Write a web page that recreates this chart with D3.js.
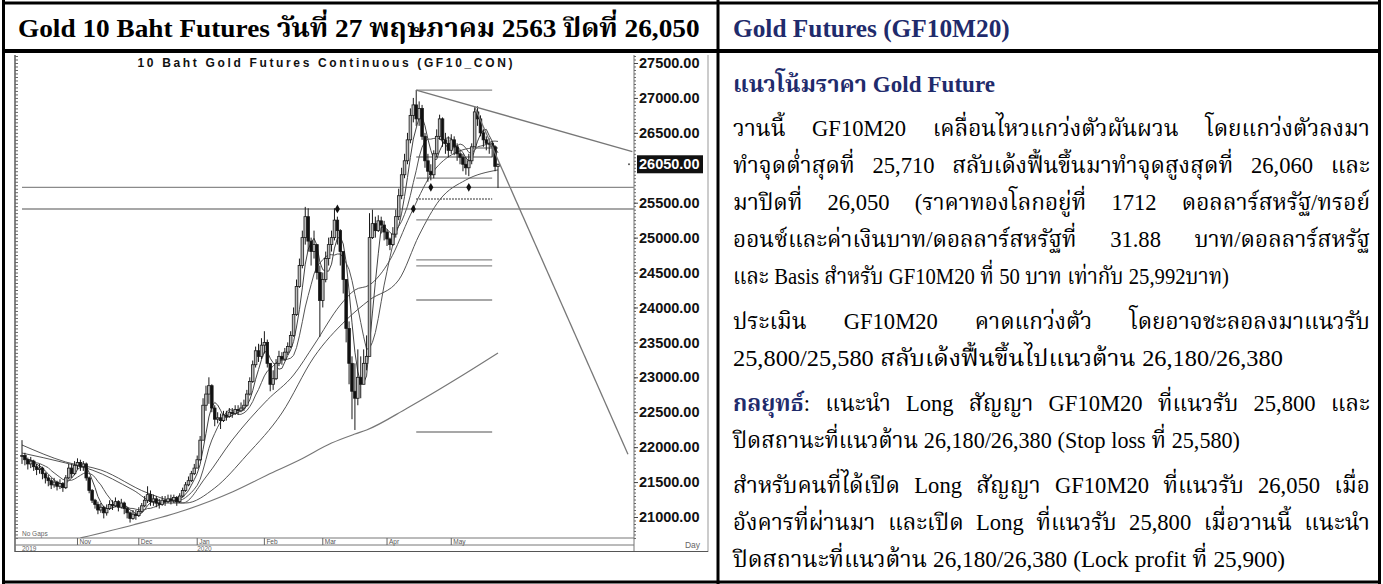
<!DOCTYPE html>
<html>
<head>
<meta charset="utf-8">
<script src="https://cdn.jsdelivr.net/npm/d3@7"></script>
<style>
  body { margin: 0; background: #fff; }
  svg { display: block; }
</style>
</head>
<body>
<svg id="page" width="1383" height="584"></svg>
<script>
// ---- data (daily bars, Oct 2019 -> 27 May 2020) ----
var closes = [
  21880, 21820, 21760, 21800, 21720, 21680, 21700, 21620, 21560, 21520,
  21460, 21500, 21440, 21480, 21420, 21560, 21700, 21620, 21740, 21780,
  21720, 21760, 21560, 21380, 21240, 21180, 21100, 21140, 21060, 21120,
  21180, 21160, 21220, 21140, 21200, 21120, 21060, 20980, 21040, 21020,
  21080, 21160, 21240, 21320, 21220, 21260, 21200, 21180, 21240, 21220,
  21260, 21240, 21280, 21220, 21300, 21380, 21460, 21520, 21620, 21700,
  21820, 22100, 22600, 22760, 22880, 22560, 22400, 22420, 22380, 22460,
  22440, 22500, 22480, 22540, 22520, 22560, 22600, 22760, 22940, 23180,
  23380, 23300, 23460, 23500, 23200, 22900, 22980, 23200, 23300, 23260,
  23360, 23440, 23600, 23900, 24300, 24600, 25000, 25300, 24950, 24800,
  24900, 24500, 24100, 24400, 24700, 24900, 25000, 25250, 25100, 24800,
  24400, 23700, 23200, 22800, 22700, 23000, 22900, 23200, 23300, 25000,
  25200, 25100, 25240, 25180, 25080, 24980, 24900, 25050, 25300, 25600,
  25900, 26100, 26400, 26750, 26900, 26700, 26850, 26450, 26100, 25950,
  25900, 26200, 26450, 26700, 26400, 26350, 26250, 26400, 26300, 26200,
  26150, 26050, 26000, 26100, 26300, 26800, 26700, 26500, 26400, 26350,
  26350, 26300, 26020, 26050
];
var highs = [
  22100, 21920, 21850, 21860, 21820, 21760, 21760, 21720, 21640, 21600,
  21560, 21560, 21520, 21540, 21500, 21600, 21760, 21760, 21800, 21840,
  21820, 21800, 21780, 21580, 21400, 21260, 21220, 21200, 21160, 21180,
  21240, 21240, 21280, 21240, 21260, 21220, 21140, 21080, 21100, 21100,
  21140, 21200, 21300, 21440, 21380, 21320, 21300, 21260, 21300, 21300,
  21320, 21320, 21320, 21300, 21340, 21420, 21500, 21580, 21660, 21760,
  21880, 22160, 22700, 22880, 23000, 22900, 22600, 22500, 22480, 22520,
  22520, 22560, 22560, 22600, 22600, 22640, 22680, 22820, 23000, 23240,
  23440, 23480, 23560, 23660, 23540, 23200, 23100, 23260, 23380, 23360,
  23420, 23500, 23660, 24000, 24400, 24700, 25100, 25440, 25420, 25000,
  25100, 24900, 24600, 24500, 24800, 25000, 25100, 25420, 25300, 25120,
  24800, 24400, 23800, 23300, 23200, 23400, 23300, 23400, 23600, 25350,
  25400, 25300, 25320, 25300, 25240, 25120, 25000, 25150, 25400, 25700,
  26000, 26200, 26500, 26850, 27000, 27113, 26950, 26900, 26500, 26200,
  26050, 26250, 26550, 26760, 26720, 26500, 26450, 26480, 26450, 26350,
  26250, 26200, 26150, 26200, 26350, 26884, 26880, 26750, 26550, 26450,
  26420, 26380, 26320, 26060
];
var lows = [
  21760, 21740, 21680, 21700, 21660, 21600, 21620, 21540, 21480, 21440,
  21400, 21420, 21380, 21400, 21360, 21400, 21540, 21560, 21600, 21680,
  21660, 21660, 21520, 21340, 21200, 21120, 21040, 21060, 20980, 21020,
  21100, 21100, 21140, 21080, 21120, 21040, 20980, 20920, 20960, 20960,
  21000, 21060, 21140, 21200, 21160, 21160, 21140, 21120, 21160, 21160,
  21200, 21180, 21200, 21160, 21200, 21280, 21360, 21440, 21500, 21600,
  21700, 21800, 22100, 22520, 22620, 22500, 22300, 22340, 22260, 22360,
  22380, 22420, 22420, 22460, 22460, 22500, 22520, 22580, 22740, 22920,
  23140, 23220, 23260, 23340, 23140, 22800, 22820, 22960, 23160, 23180,
  23240, 23320, 23420, 23580, 23880, 24280, 24560, 24900, 24800, 24600,
  24700, 24400, 23580, 24000, 24360, 24600, 24800, 24960, 24900, 24600,
  24200, 23500, 22900, 22400, 22246, 22600, 22700, 22900, 23100, 23300,
  24980, 25000, 25080, 25060, 24960, 24880, 24820, 24880, 25000, 25250,
  25550, 25850, 26050, 26350, 26650, 26600, 26600, 26400, 26000, 25800,
  25820, 25850, 26150, 26400, 26300, 26200, 26150, 26200, 26180, 26100,
  26050, 25950, 25900, 25880, 26050, 26300, 26600, 26450, 26300, 26250,
  26200, 26150, 25950, 25710
];

// slower averages (day index / price)
var ma25Days = [0, 15, 24, 38, 46, 55, 63, 72, 84, 93, 100, 109, 114, 119, 126, 133, 140, 147, 155, 163];
var ma25Vals = [21916, 21773, 21673, 21387, 21200, 21200, 21573, 22102, 22675, 23033, 23463, 24035, 24250, 24322, 24679, 25325, 25898, 26183, 26283, 26283];
var ma50Days = [0, 15, 27, 43, 56, 66, 77, 89, 100, 111, 119, 129, 136, 143, 152, 163];
var ma50Vals = [22031, 21787, 21673, 21344, 21200, 21415, 21888, 22489, 23291, 23820, 24107, 24393, 25037, 25539, 25825, 25969];
var ma200Days = [20, 38, 56, 72, 84, 95, 106, 114, 118, 132, 151, 163];
var ma200Vals = [20700, 20885, 21100, 21358, 21601, 21816, 22059, 22188, 22246, 22561, 23033, 23348];

// drawn studies
var supportLevels = [25720, 25410];
var fibDays = [135, 161];
var fibLevels = [27113, 26154, 25853, 25253, 24680, 24594, 24107, 22217];
var fibDotted = [25553];
var trendTop = [[135, 27113], [209, 26230]];
var trendFall = [[155, 26870], [207.5, 21900]];
var markDays = [108, 134, 140, 153];
var markPrices = [25410, 25410, 25720, 25720];
var lastPrice = 26050;

var yTicks = [21000, 21500, 22000, 22500, 23000, 23500, 24000, 24500, 25000, 25500, 26500, 27000, 27500];
var monthDays = [19, 40, 60, 83, 103, 125, 147];
var monthNames = ["Nov", "Dec", "Jan", "Feb", "Mar", "Apr", "May"];
var yearDays = [0, 60];
var yearNames = ["2019", "2020"];

// ---- page ----
var navy = "#1f2b6c";
var serif = "'Liberation Serif','Noto Serif Thai','Norasi','Kinnari','Laksaman','DejaVu Serif',serif";
var sans = "'Liberation Sans',Arial,sans-serif";
var svg = d3.select("#page");

svg.append("rect").attr("width", 1383).attr("height", 584).attr("fill", "#fff");

// ---- chart ----
var plotLeft = 16, plotRight = 634, plotTop = 56, plotBottom = 538;

var x = d3.scaleLinear().domain([0, 163]).range([22, 498]);
var y = d3.scaleLinear().domain([21000, 27500]).range([517, 63]);

var chart = svg.append("g");

chart.append("clipPath").attr("id", "plotclip")
    .append("rect")
    .attr("x", plotLeft).attr("y", plotTop)
    .attr("width", plotRight - plotLeft).attr("height", plotBottom - plotTop);

// frame
chart.append("line").attr("x1", 15).attr("x2", 15).attr("y1", 55).attr("y2", 552)
    .attr("stroke", "#333").attr("stroke-width", 1.2);
chart.append("line").attr("x1", plotRight).attr("x2", plotRight).attr("y1", 55).attr("y2", 552)
    .attr("stroke", "#777");
chart.append("line").attr("x1", 708).attr("x2", 708).attr("y1", 55).attr("y2", 552)
    .attr("stroke", "#999");

// left ruler ticks and right minor ticks
var minorTicks = d3.range(20700, 27650, 50);
chart.append("g")
    .attr("transform", "translate(15,0)")
    .call(d3.axisRight(y).tickValues(minorTicks).tickSize(3).tickFormat(""))
    .call(function (g) { g.select(".domain").remove(); })
    .selectAll("line").attr("stroke", "#666");
chart.append("g")
    .attr("transform", "translate(" + plotRight + ",0)")
    .call(d3.axisRight(y).tickValues(minorTicks).tickSize(2).tickFormat(""))
    .call(function (g) { g.select(".domain").remove(); })
    .selectAll("line").attr("stroke", "#666");

// price labels
var yAxis = chart.append("g")
    .attr("transform", "translate(" + plotRight + ",0)")
    .call(d3.axisRight(y).tickValues(yTicks).tickSize(4).tickPadding(1).tickFormat(d3.format(".2f")));
yAxis.select(".domain").remove();
yAxis.selectAll("line").attr("stroke", "#444");
yAxis.selectAll("text")
    .attr("font-family", sans).attr("font-weight", "bold").attr("font-size", 14.5)
    .attr("fill", "#111");

// last price box
chart.append("rect").attr("x", 637).attr("y", y(lastPrice) - 9).attr("width", 66).attr("height", 18)
    .attr("fill", "#111");
chart.append("text").attr("x", 639).attr("y", y(lastPrice)).attr("dy", "0.35em")
    .attr("font-family", sans).attr("font-weight", "bold").attr("font-size", 14.5)
    .attr("fill", "#fff").text(d3.format(".2f")(lastPrice));
chart.append("circle").attr("cx", 629).attr("cy", y(lastPrice)).attr("r", 1).attr("fill", "#555");

chart.append("text").attr("x", 700).attr("y", 548).attr("text-anchor", "end")
    .attr("font-family", sans).attr("font-size", 8.5).attr("fill", "#666").text("Day");

// title
chart.append("text").attr("x", 325).attr("y", 67).attr("text-anchor", "middle")
    .attr("font-family", sans).attr("font-weight", "bold").attr("font-size", 12)
    .attr("textLength", 375).attr("lengthAdjust", "spacing")
    .attr("fill", "#111")
    .text("10 Baht Gold Futures Continuous (GF10_CON)");

// bottom time strip
[538, 545].forEach(function (yy) {
  chart.append("line").attr("x1", 15).attr("x2", plotRight).attr("y1", yy).attr("y2", yy)
      .attr("stroke", "#777");
});
chart.append("line").attr("x1", 15).attr("x2", 708).attr("y1", 551.5).attr("y2", 551.5)
    .attr("stroke", "#555").attr("stroke-width", 1.2);

var months = chart.append("g").selectAll("g").data(monthDays).join("g")
    .attr("transform", function (d) { return "translate(" + x(d) + ",0)"; });
months.append("line").attr("y1", 538).attr("y2", 545).attr("stroke", "#666");
months.append("text").attr("x", 2).attr("y", 543.5)
    .attr("font-family", sans).attr("font-size", 6.5).attr("fill", "#555")
    .text(function (d, i) { return monthNames[i]; });
chart.append("g").selectAll("text").data(yearDays).join("text")
    .attr("x", function (d) { return x(d); }).attr("y", 550.5)
    .attr("font-family", sans).attr("font-size", 6.5).attr("fill", "#666")
    .text(function (d, i) { return yearNames[i]; });
chart.append("text").attr("x", 22).attr("y", 536)
    .attr("font-family", sans).attr("font-size", 6.5).attr("fill", "#666").text("No Gaps");

var plot = chart.append("g").attr("clip-path", "url(#plotclip)");

// support lines across the chart
plot.selectAll(".sup").data(supportLevels).join("line")
    .attr("x1", x(0)).attr("x2", plotRight)
    .attr("y1", function (d) { return y(d); }).attr("y2", function (d) { return y(d); })
    .attr("stroke", "#8a8a8a").attr("stroke-width", 1.3);

// retracement levels
plot.selectAll(".fib").data(fibLevels).join("line")
    .attr("x1", x(fibDays[0])).attr("x2", x(fibDays[1]))
    .attr("y1", function (d) { return y(d); }).attr("y2", function (d) { return y(d); })
    .attr("stroke", "#8a8a8a").attr("stroke-width", 1.3);
plot.selectAll(".fibd").data(fibDotted).join("line")
    .attr("x1", x(fibDays[0])).attr("x2", x(fibDays[1]))
    .attr("y1", function (d) { return y(d); }).attr("y2", function (d) { return y(d); })
    .attr("stroke", "#777").attr("stroke-width", 2).attr("stroke-dasharray", "1.5,1.5");

// moving averages
function sma(n) {
  return closes.map(function (c, i) {
    return d3.mean(closes.slice(Math.max(0, i - n + 1), i + 1));
  });
}
var lineIdx = d3.line().x(function (d, i) { return x(i); }).y(function (d) { return y(d); });
var linePts = d3.line().x(function (d) { return x(d[0]); }).y(function (d) { return y(d[1]); })
    .curve(d3.curveMonotoneX);

function styleLine(p) {
  return p.attr("fill", "none").attr("stroke", "#555").attr("stroke-width", 1);
}
styleLine(plot.append("path").attr("d", linePts(d3.zip(ma200Days, ma200Vals)))).attr("stroke", "#777").attr("stroke-width", 1.2);
styleLine(plot.append("path").attr("d", linePts(d3.zip(ma50Days, ma50Vals))));
styleLine(plot.append("path").attr("d", linePts(d3.zip(ma25Days, ma25Vals))));
styleLine(plot.append("path").attr("d", lineIdx(sma(10))));
styleLine(plot.append("path").attr("d", lineIdx(sma(5)))).attr("stroke", "#444");

// candles
var bars = closes.map(function (c, i) {
  return { i: i, o: i ? closes[i - 1] : c, h: highs[i], l: lows[i], c: c };
});
var cand = plot.append("g").selectAll("g").data(bars).join("g");
cand.append("line")
    .attr("x1", function (d) { return x(d.i); }).attr("x2", function (d) { return x(d.i); })
    .attr("y1", function (d) { return y(d.h); }).attr("y2", function (d) { return y(d.l); })
    .attr("stroke", "#1a1a1a").attr("stroke-width", 1);
cand.append("rect")
    .attr("x", function (d) { return x(d.i) - 1.3; }).attr("width", 2.6)
    .attr("y", function (d) { return y(Math.max(d.o, d.c)); })
    .attr("height", function (d) { return Math.max(1, Math.abs(y(d.o) - y(d.c))); })
    .attr("fill", function (d) { return d.c >= d.o ? "#bdbdbd" : "#111"; })
    .attr("stroke", "#1a1a1a").attr("stroke-width", 0.8);

// trend lines
plot.append("line")
    .attr("x1", x(trendTop[0][0])).attr("y1", y(trendTop[0][1]))
    .attr("x2", x(trendTop[1][0])).attr("y2", y(trendTop[1][1]))
    .attr("stroke", "#777").attr("stroke-width", 1.3);
plot.append("line")
    .attr("x1", x(trendFall[0][0])).attr("y1", y(trendFall[0][1]))
    .attr("x2", x(trendFall[1][0])).attr("y2", y(trendFall[1][1]))
    .attr("stroke", "#777").attr("stroke-width", 1.3);

// markers
plot.selectAll(".mk").data(markDays).join("path")
    .attr("transform", function (d, i) { return "translate(" + x(d) + "," + y(markPrices[i]) + ")"; })
    .attr("d", d3.symbol(d3.symbolDiamond, 22))
    .attr("fill", "#111");

// ---- table borders ----
var tbl = svg.append("g").attr("stroke", "#000").attr("fill", "none");
tbl.append("line").attr("x1", 2).attr("x2", 1381).attr("y1", 3).attr("y2", 3).attr("stroke-width", 3);
tbl.append("line").attr("x1", 2).attr("x2", 1381).attr("y1", 51).attr("y2", 51).attr("stroke-width", 4);
tbl.append("line").attr("x1", 2).attr("x2", 1381).attr("y1", 582).attr("y2", 582).attr("stroke-width", 3);
tbl.append("line").attr("x1", 3.5).attr("x2", 3.5).attr("y1", 0).attr("y2", 584).attr("stroke-width", 3);
tbl.append("line").attr("x1", 718).attr("x2", 718).attr("y1", 0).attr("y2", 584).attr("stroke-width", 3);
tbl.append("line").attr("x1", 1379.5).attr("x2", 1379.5).attr("y1", 0).attr("y2", 584).attr("stroke-width", 3);

// ---- header texts ----
function fitX(sel, left, base, width) {
  var w = sel.node().getComputedTextLength();
  sel.attr("transform", "translate(" + left + "," + base + ") scale(" + (width / w) + ",1)");
}
var h1 = svg.append("text").attr("font-family", serif).attr("font-weight", "bold")
    .attr("font-size", 26).attr("fill", "#000")
    .text("Gold 10 Baht Futures วันที่ 27 พฤษภาคม 2563 ปิดที่ 26,050");
fitX(h1, 18, 37, 682);
var h2 = svg.append("text").attr("font-family", serif).attr("font-weight", "bold")
    .attr("font-size", 25).attr("fill", navy)
    .text("Gold Futures (GF10M20)");
fitX(h2, 733, 37, 277);

// ---- commentary ----
var lines = [
  { t: "แนวโน้มราคา Gold Future", y: 92, w: 262, just: false, head: true },
  { t: "วานนี้ GF10M20 เคลื่อนไหวแกว่งตัวผันผวน โดยแกว่งตัวลงมา", y: 136, w: 637, just: true },
  { t: "ทำจุดต่ำสุดที่ 25,710 สลับเด้งฟื้นขึ้นมาทำจุดสูงสุดที่ 26,060 และ", y: 173, w: 637, just: true },
  { t: "มาปิดที่ 26,050 (ราคาทองโลกอยู่ที่ 1712 ดอลลาร์สหรัฐ/ทรอย์", y: 210, w: 637, just: true },
  { t: "ออนซ์และค่าเงินบาท/ดอลลาร์สหรัฐที่ 31.88 บาท/ดอลลาร์สหรัฐ", y: 247, w: 637, just: true },
  { t: "และ Basis สำหรับ GF10M20 ที่ 50 บาท เท่ากับ 25,992บาท)", y: 284, w: 496, just: false },
  { t: "ประเมิน GF10M20 คาดแกว่งตัว โดยอาจชะลอลงมาแนวรับ", y: 329, w: 637, just: true },
  { t: "25,800/25,580 สลับเด้งฟื้นขึ้นไปแนวต้าน 26,180/26,380", y: 366, w: 550, just: false },
  { t: "กลยุทธ์: แนะนำ Long สัญญา GF10M20 ที่แนวรับ 25,800 และ", y: 411, w: 637, just: true, lead: "กลยุทธ์" },
  { t: "ปิดสถานะที่แนวต้าน 26,180/26,380 (Stop loss ที่ 25,580)", y: 448, w: 507, just: false },
  { t: "สำหรับคนที่ได้เปิด Long สัญญา GF10M20 ที่แนวรับ 26,050 เมื่อ", y: 493, w: 637, just: true },
  { t: "อังคารที่ผ่านมา และเปิด Long ที่แนวรับ 25,800 เมื่อวานนี้ แนะนำ", y: 530, w: 637, just: true },
  { t: "ปิดสถานะที่แนวต้าน 26,180/26,380 (Lock profit ที่ 25,900)", y: 567, w: 552, just: false }
];

var body = svg.append("g").attr("font-family", serif).attr("font-size", 23).attr("fill", "#000");
var space = 6;

// build words first, measure, then place
var built = lines.map(function (ln) {
  var g = body.append("g");
  if (ln.head) g.attr("fill", navy).attr("font-weight", "bold");
  var words = ln.t.split(" ");
  var texts = words.map(function (w) {
    var t = g.append("text").attr("y", 0);
    if (ln.lead && w.indexOf(ln.lead) === 0) {
      t.append("tspan").attr("fill", navy).attr("font-weight", "bold").text(ln.lead);
      t.append("tspan").text(w.slice(ln.lead.length));
    } else {
      t.text(w);
    }
    return t;
  });
  var ws = texts.map(function (t) { return t.node().getComputedTextLength(); });
  var natural = d3.sum(ws) + space * (words.length - 1);
  return { ln: ln, g: g, texts: texts, ws: ws, natural: natural };
});

// common horizontal squeeze taken from the lines that are not justified
var bodyScale = d3.mean(built.filter(function (b) { return !b.ln.just && !b.ln.head; }),
    function (b) { return b.ln.w / b.natural; });

built.forEach(function (b) {
  var ln = b.ln, n = b.ws.length;
  var sx = ln.head ? ln.w / b.natural : bodyScale;
  var gap = space;
  if (ln.just) {
    gap = (ln.w / sx - d3.sum(b.ws)) / (n - 1);
    if (gap < space) { sx = ln.w / b.natural; gap = space; }
  } else if (!ln.head) {
    sx = ln.w / b.natural;
  }
  var cx = 0;
  b.texts.forEach(function (t, k) { t.attr("x", cx); cx += b.ws[k] + gap; });
  b.g.attr("transform", "translate(733," + ln.y + ") scale(" + sx + ",1)");
});
</script>
</body>
</html>
